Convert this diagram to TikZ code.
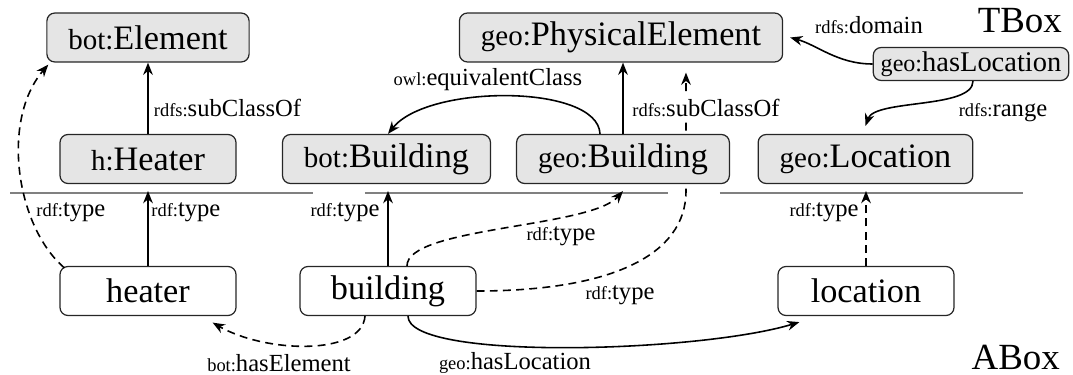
\documentclass[tikz,border=0pt]{standalone}
\usepackage{fontspec}
\setmainfont{Liberation Serif}
\usetikzlibrary{arrows.meta,backgrounds}
\definecolor{boxgray}{gray}{0.9}
\definecolor{linegray}{gray}{0.5}
\newcommand{\pfx}[2][16.5]{{\fontsize{#1}{#1}\selectfont #2:}}
\newcommand{\lpfx}[1]{{\fontsize{10.5}{11}\selectfont #1:}}
\tikzset{
  tbox/.style={draw=black!85, fill=boxgray, rounded corners=0.16cm, minimum width=3.52cm, minimum height=0.98cm, inner xsep=0.43cm, line width=0.7pt, font=\fontsize{19.5}{21}\selectfont},
  abox/.style={tbox, fill=white},
  pbox/.style={tbox, minimum width=0pt, minimum height=0.66cm, inner xsep=0.15cm, inner ysep=0pt, font=\fontsize{16.2}{18}\selectfont},
  lbl/.style={inner sep=1.5pt, font=\fontsize{14}{15}\selectfont},
  arr/.style={-{Stealth[length=7pt,width=5.5pt]}, line width=0.9pt},
  darr/.style={arr, dash pattern=on 4.5pt off 3pt},
  sepline/.style={draw=linegray, line width=0.9pt, dash pattern=on 6.06cm off 1.04cm},
}
\begin{document}
\begin{tikzpicture}[x=0.02cm, y=-0.02cm]
\useasboundingbox (0,0) rectangle (1073,375);
% TBox
\node[tbox] (elem) at (148,37.5) {\pfx{bot}Element};
\node[tbox] (physEl) at (621,37.5) {\pfx{geo}PhysicalElement};
\node[pbox] (hasLoc) at (971,64) {\pfx[13.7]{geo}hasLocation};
\node[tbox] (hHeater) at (148,159) {\pfx{h}Heater};
\node[tbox] (botBldg) at (386.5,159) {\pfx{bot}Building};
\node[tbox] (geoBldg) at (623,159) {\pfx{geo}Building};
\node[tbox] (geoLoc) at (865.5,159) {\pfx{geo}Location};
\node[anchor=base east, font=\fontsize{21}{22}\selectfont] (tname) at (1068,33) {TBox};
% ABox
\node[abox] (heater) at (148,291) {heater};
\node[abox] (building) at (388,291) {building};
\node[abox] (location) at (866,291) {location};
\node[anchor=base east, font=\fontsize{21}{22}\selectfont] (aname) at (1066,369) {ABox};

\coordinate (sepL) at (0,191);
\coordinate (phystip) at ([xshift=1.3cm,yshift=-0.2cm]physEl.south);
\draw[sepline] (10,193) -- (1073,193);

\draw[arr] (hHeater) -- (elem) node[lbl, pos=0.37, anchor=west, xshift=0.05cm] {\lpfx{rdfs}subClassOf};
\draw[arr] (geoBldg) -- (geoBldg.north |- physEl.south) node[lbl, fill=white, pos=0.37, anchor=west, xshift=0.12cm] {\lpfx{rdfs}subClassOf};
\draw[arr] ([xshift=-0.46cm]geoBldg.north) .. controls +(-2,-50) and +(40,-50) .. ([xshift=0.03cm]botBldg.north)
  node[lbl] at (488,80) {\lpfx{owl}equivalentClass};
\draw[arr] (hasLoc.west) .. controls +(-35,0) and +(27,7.5) .. ([xshift=0.14cm]physEl.east)
  node[lbl] at (869,25) {\lpfx{rdfs}domain};
\draw[arr] ([xshift=0.04cm]hasLoc.south) .. controls +(0,28) and +(9.5,-27) .. ([yshift=0.16cm]geoLoc.north)
  node[lbl] at (1003,113) {\lpfx{rdfs}range};

\draw[arr] (heater) -- (heater.north |- sepL) node[lbl, pos=0.72, anchor=west] {\lpfx{rdf}type};
\draw[darr] ([xshift=0.1cm,yshift=-0.04cm]heater.north west) .. controls +(-48,-41) and +(-48,56) .. ([xshift=0.04cm,yshift=-0.04cm]elem.south west)
  node[lbl, anchor=west] at (33,212) {\lpfx{rdf}type};
\draw[arr] (building) -- (building.north |- sepL) node[lbl, pos=0.72, anchor=east, xshift=-0.1cm] {\lpfx{rdf}type};
\draw[darr] ([xshift=0.38cm]building.north) .. controls +(0,-39) and +(-33,37) .. (geoBldg.south |- sepL)
  node[lbl] at (561,236) {\lpfx{rdf}type};
\begin{pgfonlayer}{background}
\draw[darr] (building.east) .. controls +(135,0) and +(0,64) .. (phystip |- sepL) -- (phystip)
  node[lbl] at (620,295) {\lpfx{rdf}type};
\end{pgfonlayer}
\draw[darr] (location) -- (location.north |- sepL) node[lbl, pos=0.72, anchor=east, xshift=-0.08cm] {\lpfx{rdf}type};
\draw[arr] ([xshift=0.4cm]building.south) .. controls +(0,45) and +(-101,30.5) .. ([xshift=0.44cm,yshift=-0.12cm]location.south west)
  node[lbl] at (515,363) {\lpfx{geo}hasLocation};
\draw[darr] ([xshift=-0.46cm]building.south) .. controls +(-3,40) and +(53,30.5) .. ([xshift=-0.48cm,yshift=-0.13cm]heater.south east)
  node[lbl] at (279,363) {\lpfx{bot}hasElement};
\end{tikzpicture}
\end{document}
